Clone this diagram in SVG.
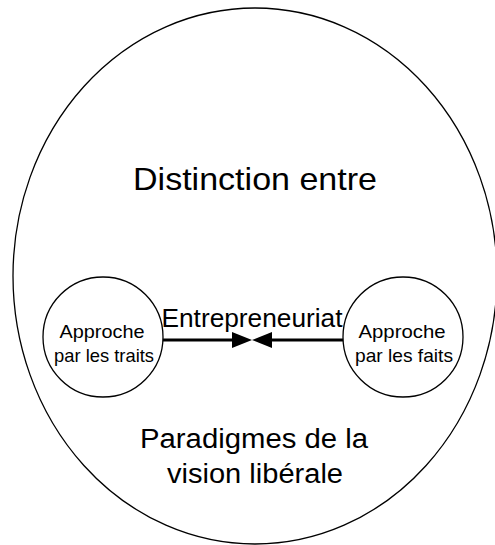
<svg xmlns="http://www.w3.org/2000/svg" width="495" height="545" viewBox="0 0 495 545">
<style>
  .shape { fill: #ffffff; stroke: #000000; stroke-width: 1.3; }
  .t { font-family: "Liberation Sans", Arial, sans-serif; fill: #000000; }
  .conn { stroke: #000000; stroke-width: 3; fill: none; }
</style>
<defs>
  <marker id="arrow" markerUnits="userSpaceOnUse" markerWidth="20" markerHeight="16" refX="8" refY="8" orient="auto">
    <path d="M0,0 L20,8 L0,16 Z" fill="#000000"/>
  </marker>
</defs>
<rect width="495" height="545" fill="#ffffff"/>
<g id="outer">
  <ellipse class="shape" cx="255" cy="276" rx="242" ry="268"/>
  <text class="t" x="255" y="190" font-size="32" text-anchor="middle" textLength="244" lengthAdjust="spacingAndGlyphs">Distinction entre</text>
  <text class="t" x="254" y="448" font-size="27" text-anchor="middle" textLength="228" lengthAdjust="spacingAndGlyphs">Paradigmes de la</text>
  <text class="t" x="255" y="483" font-size="27" text-anchor="middle" textLength="176" lengthAdjust="spacingAndGlyphs">vision libérale</text>
</g>
<g id="traits">
  <circle class="shape" cx="103" cy="337" r="60"/>
  <text class="t" x="102" y="338" font-size="18.5" text-anchor="middle" textLength="85" lengthAdjust="spacingAndGlyphs">Approche</text>
  <text class="t" x="104" y="362" font-size="18.5" text-anchor="middle" textLength="100" lengthAdjust="spacingAndGlyphs">par les traits</text>
</g>
<g id="faits">
  <circle class="shape" cx="403" cy="337" r="60"/>
  <text class="t" x="402" y="338" font-size="18.5" text-anchor="middle" textLength="87" lengthAdjust="spacingAndGlyphs">Approche</text>
  <text class="t" x="404" y="362" font-size="18.5" text-anchor="middle" textLength="98" lengthAdjust="spacingAndGlyphs">par les faits</text>
</g>
<g id="connectors">
  <path class="conn" d="M163,340 L240,340" marker-end="url(#arrow)"/>
  <path class="conn" d="M343,340 L264,340" marker-end="url(#arrow)"/>
  <text class="t" x="252" y="327" font-size="25" text-anchor="middle" textLength="181" lengthAdjust="spacingAndGlyphs">Entrepreneuriat</text>
</g>
</svg>
